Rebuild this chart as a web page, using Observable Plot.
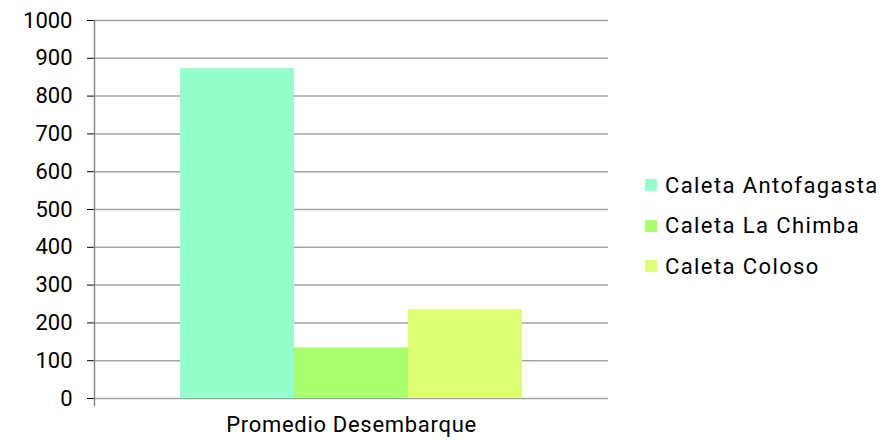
<!DOCTYPE html>
<html><head><meta charset="utf-8">
<script src="https://cdn.jsdelivr.net/npm/d3@7"></script>
<script src="https://cdn.jsdelivr.net/npm/@observablehq/plot@0.6"></script>
<style>
body{margin:0;background:#fff;font-family:Roboto,sans-serif}
#wrap{position:relative;width:887px;height:443px;overflow:hidden}
#legend{position:absolute;left:645px;top:165px;font-family:Roboto,sans-serif;font-size:22px;letter-spacing:1.4px;color:#000}
.row{display:flex;align-items:center;height:40.5px;white-space:nowrap}
.sw{width:12px;height:12px;margin-right:8px;flex:none}
</style></head><body><div id="wrap"></div>
<script>
const category = ["Promedio Desembarque"];
const series = ["Caleta Antofagasta", "Caleta La Chimba", "Caleta Coloso"];
const values = [873, 134, 235];
const colors = ["#94FFCC", "#A8FF70", "#DDFF73"];
const yTicks = [0, 100, 200, 300, 400, 500, 600, 700, 800, 900, 1000];

const data = series.map((s, i) => ({category: category[0], series: s, value: values[i]}));

const chart = Plot.plot({
  width: 887, height: 443,
  marginLeft: 94, marginRight: 279, marginTop: 20, marginBottom: 45,
  style: {fontFamily: "Roboto, sans-serif", fontSize: "22px", color: "#000", background: "#fff", overflow: "visible"},
  fx: {domain: category, padding: 0, label: null, axis: "bottom", tickSize: 0, tickPadding: 18},
  x: {domain: series, paddingInner: 0, paddingOuter: 0.748, axis: null},
  y: {domain: [0, 1000], ticks: yTicks, tickSize: 7, tickPadding: 15, label: null, tickFormat: d => String(d)},
  color: {domain: series, range: colors},
  marks: [
    Plot.ruleY(yTicks, {stroke: "#a3a3a3", strokeWidth: 1.5}),
    Plot.frame({anchor: "left", stroke: "#8c8c8c", strokeWidth: 1.5, insetBottom: -7}),
    Plot.barY(data, {fx: "category", x: "series", y: "value", fill: "series"})
  ]
});
const wrap = document.getElementById("wrap");
wrap.appendChild(chart);
d3.select(chart).selectAll("[aria-label='fx-axis tick label'] text, g[aria-label='fx-axis'] text").style("letter-spacing", "0.7px");
const legend = document.createElement("div");
legend.id = "legend";
series.forEach((s, i) => {
  const row = document.createElement("div");
  row.className = "row";
  const sw = document.createElement("span");
  sw.className = "sw";
  sw.style.background = colors[i];
  const t = document.createElement("span");
  t.textContent = s;
  row.appendChild(sw); row.appendChild(t);
  legend.appendChild(row);
});
wrap.appendChild(legend);
</script></body></html>
